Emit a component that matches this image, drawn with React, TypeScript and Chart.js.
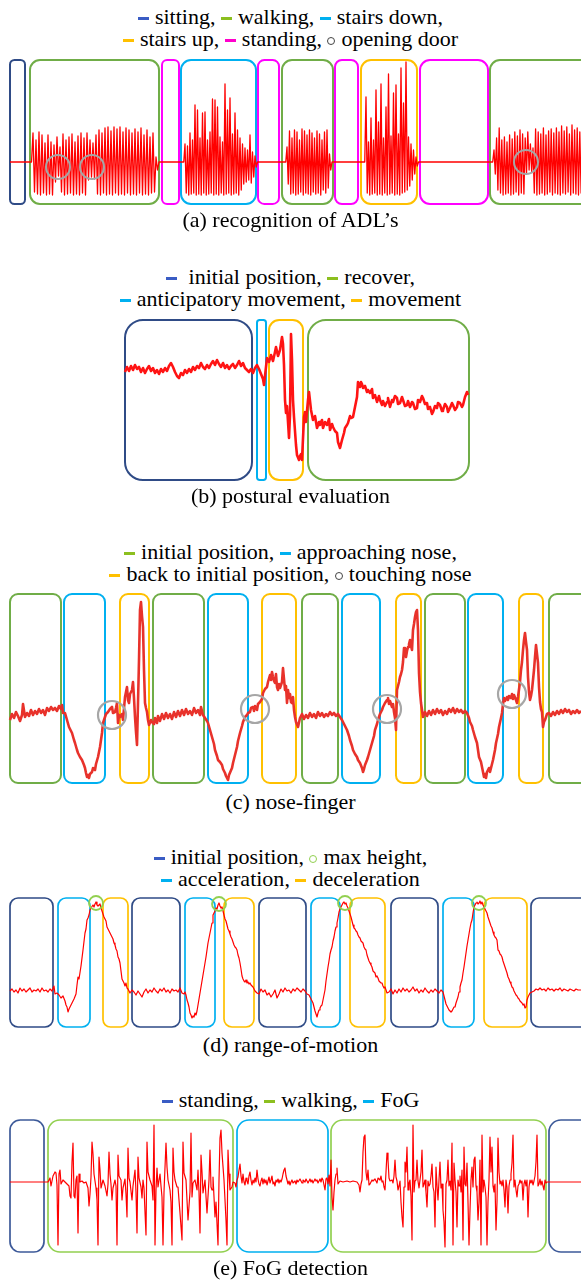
import React, { useEffect, useRef } from 'react';
import { Chart, registerables } from 'chart.js';

Chart.register(...registerables);

type Pt = { x: number; y: number };
type Seg = { phase: string; start: number; end: number };
type Burst = { start: number; step: number; peaks: number[]; troughs: number[] };

// ============ (a) recognition of ADL's ============
const adlSegments: Seg[] = [
  { phase: 'sitting', start: 10, end: 25 },
  { phase: 'walking', start: 30, end: 159 },
  { phase: 'standing', start: 162, end: 179 },
  { phase: 'stairsDown', start: 181, end: 256 },
  { phase: 'standing', start: 258, end: 279 },
  { phase: 'walking', start: 282, end: 333 },
  { phase: 'standing', start: 335, end: 358 },
  { phase: 'stairsUp', start: 361, end: 417 },
  { phase: 'standing', start: 420, end: 488 },
  { phase: 'walking', start: 490, end: 600 },
];
const adlWalk1Peaks = [29, 22, 30, 27, 19, 27, 20, 17, 25, 15, 28, 22, 25, 28, 20, 26, 29, 24, 29, 22, 19, 27, 32, 29, 34, 35, 31, 35, 33, 35, 30, 34, 32, 29, 33, 30, 34, 27, 32, 25, 29, 5];
const adlWalk1Troughs = [-30, -32, -33, -31, -33, -32, -33, -20, -14, -30, -33, -32, -31, -33, -32, -33, -31, -33, -18, -15, -17, -32, -33, -31, -33, -32, -33, -31, -33, -32, -33, -31, -33, -32, -33, -31, -33, -32, -33, -31, -30, -8];
const adlStairsDownPeaks = [18, 16, 29, 22, 57, 52, 24, 49, 50, 22, 30, 63, 62, 55, 25, 20, 78, 52, 64, 28, 49, 32, 24, 18, 14, 12, 27, 10, 6];
const adlStairsDownTroughs = [-31, -33, -32, -31, -33, -32, -33, -31, -33, -32, -31, -33, -32, -33, -31, -33, -32, -31, -33, -32, -31, -33, -28, -22, -20, -18, -21, -15, -5];
const adlWalk2Peaks = [15, 31, 24, 32, 30, 22, 33, 31, 27, 32, 29, 24, 31, 28, 22, 30, 32, 8];
const adlWalk2Troughs = [-22, -32, -31, -33, -32, -30, -33, -31, -32, -33, -30, -32, -31, -33, -28, -31, -26, -8];
const adlStairsUpPeaks = [65, 20, 44, 22, 72, 40, 78, 24, 55, 88, 26, 69, 77, 28, 94, 59, 100, 25, 18, 12, 5];
const adlStairsUpTroughs = [-31, -33, -32, -31, -33, -32, -33, -31, -33, -32, -31, -33, -32, -33, -31, -30, -28, -24, -18, -12, -4];
const adlWalk3Peaks = [12, 24, 34, 22, 25, 20, 27, 23, 30, 26, 32, 28, 24, 30, 18, 14, 33, 30, 28, 34, 27, 31, 33, 29, 34, 30, 36, 31, 35, 28, 37, 32, 34, 30];
const adlWalk3Troughs = [-12, -28, -31, -33, -32, -31, -33, -32, -30, -33, -31, -32, -12, -8, -10, -31, -33, -32, -31, -33, -32, -30, -33, -31, -32, -33, -31, -32, -30, -33, -31, -32, -33, -31];
const adlBursts: Burst[] = [
  { start: 33, step: 3, peaks: adlWalk1Peaks, troughs: adlWalk1Troughs },
  { start: 185, step: 2.5, peaks: adlStairsDownPeaks, troughs: adlStairsDownTroughs },
  { start: 287, step: 2.5, peaks: adlWalk2Peaks, troughs: adlWalk2Troughs },
  { start: 366, step: 2.5, peaks: adlStairsUpPeaks, troughs: adlStairsUpTroughs },
  { start: 494, step: 2.6, peaks: adlWalk3Peaks, troughs: adlWalk3Troughs },
];
const adlRecording = [10, 581];
const adlDoorEvents = [[58, -5], [92, -5], [526, 0]];

// ============ (b) postural evaluation ============
const postureSegments: Seg[] = [
  { phase: 'initial', start: 125, end: 252 },
  { phase: 'anticipatory', start: 257, end: 266 },
  { phase: 'movement', start: 269, end: 303 },
  { phase: 'recover', start: 308, end: 469 },
];
const postureTrace = [
  [125, -2], [127, 3], [129, -1], [131, 4], [133, 0], [135, 5], [137, 1], [139, 3], [141, -2], [143, 2], [145, -3], [147, 1], [149, 4], [151, -1], [153, 2], [155, -3], [157, 0], [159, -4], [161, 1], [163, -2], [165, 2], [167, -1], [169, 4], [171, 7], [173, 3], [175, -2], [177, -6], [179, -8], [181, -3], [183, -5], [185, 0], [187, -3], [189, 1], [191, -2], [193, 3], [195, 0], [197, 4], [199, 2], [201, 7], [203, 3], [205, 1], [207, 5], [209, 2], [211, 6], [213, 9], [215, 5], [217, 10], [219, 6], [221, 3], [223, 7], [225, 2], [227, 5], [229, 1], [231, 4], [233, 6], [235, 2], [237, 5], [239, 9], [241, 4], [243, 7], [245, 2], [247, 0], [249, -2], [251, 1], [253, -3],
  [255, 2], [257, 5], [259, 1], [261, -4], [263, -9], [264, -15], [265, -6], [266, 3],
  [267, 12], [269, 8], [271, 15], [273, 9], [275, 18], [276, 23], [278, 14], [280, 20], [282, 33], [283, 26], [284, 5], [285, -30], [286, -43], [287, -36], [288, -52], [289, -68], [290, -45], [291, 36], [292, 10], [293, -30], [294, -47], [296, -75], [297, -85], [299, -90], [300, -86], [301, -84], [302, -90], [304, -47], [305, -42], [306, -52],
  [308, -30], [309, -22], [311, -40], [313, -50], [315, -46], [317, -58], [319, -52], [320, -55], [322, -50], [323, -58], [325, -52], [327, -55], [329, -49], [330, -60], [332, -54], [333, -57], [335, -61], [337, -63], [338, -72], [340, -78], [342, -70], [344, -63], [345, -58], [347, -55], [348, -53], [350, -46], [351, -48], [353, -47], [355, -37], [357, -27], [358, -12], [360, -17], [361, -12], [362, -14], [363, -18], [365, -16], [367, -22], [368, -20], [370, -23], [372, -19], [373, -28], [375, -25], [377, -32], [379, -26], [380, -30], [382, -35], [383, -31], [385, -36], [387, -32], [388, -28], [390, -37], [392, -30], [393, -32], [395, -26], [397, -28], [398, -34], [400, -33], [402, -27], [403, -30], [405, -36], [407, -35], [408, -31], [410, -37], [412, -32], [413, -33], [415, -39], [417, -38], [418, -30], [420, -32], [422, -26], [423, -28], [425, -34], [427, -33], [428, -39], [430, -37], [432, -44], [433, -42], [435, -36], [437, -38], [438, -33], [440, -35], [442, -41], [443, -40], [445, -34], [447, -37], [448, -42], [450, -38], [452, -33], [453, -35], [455, -40], [457, -37], [458, -32], [460, -33], [462, -37], [463, -35], [465, -27], [467, -22], [468, -25],
];

// ============ (c) nose-finger ============
const noseSegments: Seg[] = [
  { phase: 'initial', start: 10, end: 61 }, { phase: 'approach', start: 64, end: 105 }, { phase: 'back', start: 120, end: 149 },
  { phase: 'initial', start: 153, end: 204 }, { phase: 'approach', start: 208, end: 248 }, { phase: 'back', start: 262, end: 296 },
  { phase: 'initial', start: 302, end: 338 }, { phase: 'approach', start: 342, end: 380 }, { phase: 'back', start: 396, end: 421 },
  { phase: 'initial', start: 425, end: 465 }, { phase: 'approach', start: 468, end: 503 }, { phase: 'back', start: 519, end: 543 },
  { phase: 'initial', start: 549, end: 600 },
];
const noseTrace = [
  [10, -8], [12, -2], [14, -6], [16, 0], [18, -4], [20, -9], [22, -3], [23, 8], [25, -5], [27, -1], [29, -4], [31, 2], [33, -3], [35, 1], [37, -2], [39, 3], [41, -1], [43, 2], [45, -3], [47, 4], [49, 1], [51, 5], [53, 2], [55, 4], [57, 1], [59, 6], [61, 3], [62, 7], [63, -1],
  [65, -1], [67, -8], [69, -15], [71, -19], [72, -21], [74, -28], [75, -31], [77, -38], [78, -41], [80, -45], [82, -48], [84, -53], [85, -56], [86, -61], [87, -65], [88, -63], [89, -66], [90, -62], [92, -60], [93, -56], [95, -58], [96, -52], [98, -45], [99, -40], [100, -35], [101, -28], [102, -21], [103, -11], [104, -8], [105, -5], [106, -2], [108, 0], [110, 3], [112, 5], [113, -1], [115, 0], [116, 4], [117, 9], [118, -11], [119, -3], [120, -5], [122, -2], [123, -8],
  [125, 15], [126, 20], [127, 25], [128, 12], [129, 9], [130, 18], [132, 22], [133, 30], [134, 14], [135, -5], [136, -20], [137, -33], [138, 9], [139, 52], [140, 102], [141, 110], [142, 96], [143, 85], [144, 42], [145, 9], [146, 4], [147, 0], [148, -8], [149, -13], [151, -8], [152, -10],
  [154, -12], [155, -6], [157, -11], [158, -4], [160, -9], [162, -2], [164, -7], [166, -1], [168, -6], [170, -2], [172, -7], [174, 0], [176, -5], [178, 1], [180, -4], [182, 2], [184, -3], [186, 3], [188, -2], [190, 1], [192, -3], [194, 4], [196, -1], [198, 2], [200, -3], [201, 5], [203, -3],
  [205, -6], [207, -9], [208, -11], [210, -18], [212, -25], [214, -32], [215, -38], [217, -44], [218, -48], [220, -50], [222, -53], [223, -57], [225, -61], [226, -64], [227, -66], [228, -68], [229, -63], [230, -63], [232, -56], [233, -51], [235, -43], [237, -35], [238, -29], [240, -21], [242, -14], [243, -10], [245, -5], [247, -3], [248, -1], [250, 0], [251, 4], [253, 5], [254, 1], [255, 6], [257, 2], [258, 8], [260, 10], [262, 13], [263, 19],
  [265, 23], [267, 25], [268, 30], [270, 37], [271, 32], [272, 40], [273, 35], [274, 31], [275, 29], [276, 38], [277, 25], [278, 22], [279, 28], [280, 24], [282, 30], [283, 44], [284, 33], [285, 22], [286, 26], [287, 9], [288, 22], [289, 14], [290, 18], [291, 10], [292, 9], [293, 15], [294, 2], [295, -5], [296, -10], [298, -15],
  [300, -6], [302, -2], [304, -7], [306, -3], [308, -6], [310, -1], [312, -5], [314, -2], [316, -6], [318, 0], [320, -4], [322, -1], [324, -5], [326, -2], [328, -4], [330, 0], [332, -3], [334, -1], [336, -4], [338, -2],
  [340, -5], [342, -8], [343, -10], [345, -14], [347, -18], [349, -24], [350, -28], [352, -34], [353, -38], [355, -42], [357, -45], [358, -48], [360, -51], [362, -56], [363, -60], [364, -57], [365, -53], [367, -48], [368, -45], [370, -38], [372, -31], [374, -24], [375, -18], [377, -12], [378, -8], [380, -2], [382, 2], [383, 5], [385, 9], [387, 12], [388, 14], [389, 8], [390, 11], [392, 5], [393, 8], [394, 0], [395, -6], [396, -18],
  [397, 22], [399, 30], [400, 35], [401, 38], [402, 42], [403, 50], [404, 64], [405, 58], [406, 55], [407, 61], [408, 65], [409, 68], [410, 72], [411, 66], [412, 62], [413, 82], [414, 88], [415, 95], [416, 100], [417, 102], [418, 82], [419, 39], [420, 20], [421, 9], [423, -5],
  [425, 0], [427, -4], [429, 1], [431, -3], [433, 2], [435, -2], [437, 3], [439, -1], [441, 2], [443, -3], [445, 1], [447, -2], [449, 3], [451, 0], [453, 4], [455, -1], [457, 3], [459, 0], [461, 2], [463, -1], [465, 1],
  [467, -1], [469, -6], [470, -10], [472, -14], [473, -18], [475, -25], [477, -31], [478, -38], [479, -45], [481, -50], [482, -55], [483, -60], [484, -65], [485, -62], [486, -66], [487, -60], [488, -58], [489, -56], [490, -60], [492, -52], [493, -48], [495, -38], [496, -31], [498, -22], [499, -15], [501, -6], [502, -1], [503, 8], [504, 14], [505, 11], [507, 15], [508, 12], [509, 16], [511, 14], [512, 18], [513, 13], [514, 17], [516, 12], [517, 9],
  [518, 15], [520, 30], [521, 42], [522, 50], [523, 62], [524, 72], [525, 79], [526, 70], [527, 62], [528, 35], [529, 20], [530, 12], [531, 16], [532, 22], [533, 32], [534, 42], [535, 55], [536, 67], [537, 58], [538, 49], [539, 25], [540, 10], [541, 3], [542, 0], [543, -15], [544, -10], [545, -8], [547, -2],
  [549, -1], [551, -4], [553, 0], [555, -3], [557, 1], [559, -2], [561, 2], [563, -1], [565, 3], [567, 0], [569, 2], [571, -2], [573, 1], [575, -1], [577, 2], [579, -1], [581, 1],
];
const noseTouchEvents = [[112, -3], [255, 3], [387, 3], [512, 18]];

// ============ (d) range-of-motion ============
const romSegments: Seg[] = [
  { phase: 'initial', start: 10, end: 53 }, { phase: 'accel', start: 58, end: 90 }, { phase: 'decel', start: 103, end: 128 },
  { phase: 'initial', start: 132, end: 180 }, { phase: 'accel', start: 185, end: 215 }, { phase: 'decel', start: 224, end: 254 },
  { phase: 'initial', start: 259, end: 306 }, { phase: 'accel', start: 311, end: 340 }, { phase: 'decel', start: 350, end: 385 },
  { phase: 'initial', start: 391, end: 438 }, { phase: 'accel', start: 443, end: 474 }, { phase: 'decel', start: 484, end: 527 },
  { phase: 'initial', start: 531, end: 600 },
];
const romTrace = [
  [10, 0], [12, 2], [14, -1], [16, 1], [18, -2], [20, 3], [22, 0], [24, 2], [26, -1], [28, 1], [30, 3], [32, -1], [34, 1], [36, 0], [38, 2], [40, -1], [42, 3], [44, 0], [46, 1], [48, -1], [50, 2], [52, 0], [54, 5], [55, -3], [57, -2],
  [59, -4], [61, -7], [63, -5], [65, -10], [66, -14], [67, -16], [68, -21], [69, -18], [70, -16], [72, -12], [74, -8], [76, -3], [77, 6], [78, 14], [79, 12], [81, 25], [83, 41], [85, 58], [86, 62], [87, 71], [88, 73], [89, 76], [90, 81], [91, 83], [93, 86], [94, 84], [95, 87], [96, 89], [97, 86], [98, 85], [100, 87], [101, 83], [102, 80], [103, 77], [104, 74], [105, 72], [106, 70], [107, 64], [108, 62], [110, 58], [111, 56], [112, 54], [113, 52], [114, 48], [115, 46], [116, 42], [117, 40], [118, 34], [119, 32], [120, 28], [121, 20], [122, 12], [123, 10], [124, 8], [125, 5], [126, 8], [127, 3], [128, 2], [130, -2],
  [132, 1], [134, -1], [136, -4], [138, 0], [140, -3], [142, -6], [144, -1], [146, 2], [148, -2], [150, 1], [152, -1], [154, 3], [156, 0], [158, -2], [160, 2], [162, 0], [164, 3], [166, -1], [168, 1], [170, -2], [172, 2], [174, 0], [176, 1], [178, -1], [180, 3], [182, -2], [184, -3],
  [185, -1], [186, -4], [187, -9], [188, -12], [189, -16], [190, -22], [191, -24], [192, -27], [193, -25], [194, -26], [195, -22], [196, -24], [197, -20], [198, -14], [199, -8], [200, -2], [202, 10], [204, 22], [206, 34], [208, 48], [210, 58], [212, 68], [213, 76], [215, 80], [216, 83], [217, 82], [218, 86], [219, 88], [220, 85], [221, 83], [222, 84], [223, 80], [224, 76], [225, 72], [226, 70], [227, 66], [228, 62], [229, 60], [230, 57], [231, 54], [232, 52], [233, 49], [234, 46], [235, 44], [236, 43], [237, 41], [238, 36], [239, 33], [240, 28], [241, 22], [242, 15], [243, 12], [244, 10], [245, 9], [246, 11], [247, 8], [248, 9], [249, 7], [250, 8], [251, 6], [252, 5], [253, 4], [254, 2], [255, 0], [257, -2],
  [259, -3], [261, 2], [263, -1], [265, 1], [267, -4], [269, -2], [271, -6], [273, -3], [275, 1], [277, -7], [279, -3], [281, 2], [283, -1], [285, 3], [287, 0], [289, 1], [291, -2], [293, 2], [295, 0], [297, 3], [299, 1], [301, -1], [303, 2], [305, 0], [307, -3],
  [309, -4], [310, -6], [311, -8], [312, -10], [313, -12], [314, -16], [315, -20], [316, -23], [317, -26], [318, -22], [319, -19], [320, -17], [321, -15], [322, -14], [323, -9], [324, -4], [325, 1], [326, 10], [327, 17], [328, 24], [329, 30], [330, 37], [331, 41], [332, 44], [333, 50], [334, 54], [335, 60], [336, 64], [337, 68], [338, 73], [339, 79], [340, 82], [341, 84], [342, 86], [343, 88], [344, 89], [345, 87], [346, 88], [347, 85], [348, 83], [349, 80], [350, 77], [351, 74], [352, 70], [353, 66], [354, 63], [355, 62], [356, 60], [357, 59], [358, 56], [359, 54], [360, 53], [361, 50], [362, 49], [363, 48], [364, 44], [365, 42], [366, 41], [367, 36], [368, 33], [369, 30], [370, 28], [371, 26], [372, 24], [373, 20], [374, 19], [375, 18], [376, 14], [377, 15], [378, 13], [379, 10], [380, 9], [381, 8], [382, 8], [383, 5], [384, 3], [385, 4], [386, 1], [387, -2],
  [389, -1], [391, 2], [393, -3], [395, 1], [397, -2], [399, 2], [401, -1], [403, 3], [405, 0], [407, 2], [409, -1], [411, 1], [413, 4], [415, 0], [417, 2], [419, -2], [421, 1], [423, -1], [425, 3], [427, 0], [429, -2], [431, 1], [433, -1], [435, 2], [437, 0], [439, -2], [441, 1],
  [443, -1], [444, -5], [445, -9], [446, -13], [447, -15], [448, -17], [449, -19], [450, -20], [451, -21], [452, -20], [453, -18], [454, -16], [455, -16], [456, -12], [457, -9], [458, -6], [459, -1], [460, 4], [461, 8], [462, 11], [463, 18], [464, 24], [465, 31], [466, 38], [467, 45], [468, 51], [469, 57], [470, 63], [471, 68], [472, 71], [473, 78], [474, 84], [475, 86], [476, 88], [477, 89], [478, 87], [479, 88], [480, 90], [481, 87], [482, 89], [483, 86], [484, 84], [485, 82], [486, 80], [487, 78], [488, 74], [489, 71], [490, 68], [491, 65], [492, 63], [493, 59], [494, 56], [495, 54], [496, 53], [497, 51], [498, 41], [499, 40], [500, 37], [501, 36], [502, 34], [503, 30], [504, 27], [505, 24], [506, 21], [507, 18], [508, 14], [509, 12], [510, 9], [511, 7], [512, 4], [513, 3], [514, 0], [515, -2], [516, -4], [517, -5], [518, -7], [519, -8], [520, -10], [521, -11], [522, -12], [523, -14], [524, -13], [525, -17], [526, -16], [527, -9], [528, -6], [529, -4], [530, -2], [532, -1], [534, 0],
  [536, 2], [538, 1], [540, 3], [542, 1], [544, 2], [546, 0], [548, 3], [550, 1], [552, 2], [554, 0], [556, 2], [558, 1], [560, 3], [562, 0], [564, 2], [566, 1], [568, 0], [570, 2], [572, 1], [574, 0], [576, 2], [578, 1], [581, 1],
];
const romMaxHeightEvents = [[96, 88], [219, 87], [345, 88], [479, 88]];

// ============ (e) FoG detection ============
const fogSegments: Seg[] = [
  { phase: 'standing', start: 10, end: 44 },
  { phase: 'walking', start: 48, end: 233 },
  { phase: 'fog', start: 237, end: 328 },
  { phase: 'walking', start: 331, end: 546 },
  { phase: 'standing', start: 549, end: 600 },
];
const fogTrace = [
  [10, 0], [20, 0], [30, 0], [40, 0], [48, 0],
  [50, 4], [51, -4], [53, 6], [55, 10], [56, 9], [57, -3], [58, -63], [59, 8], [60, 12], [61, -2], [63, 2], [65, 0], [67, -2], [69, -4], [70, -14], [71, -16], [72, 20], [73, 39], [74, -14], [75, -16], [76, 2], [77, 6], [78, -51], [79, 8], [80, 0], [82, 1], [84, -1], [86, 0], [88, -6], [89, -24], [90, -12], [91, 5], [92, 40], [93, 28], [94, 8], [96, -6], [97, -18], [98, -63], [99, 25], [100, 12], [101, -6], [103, 2], [105, -4], [107, -14], [108, -2], [109, 30], [110, 8], [111, -2], [112, -18], [113, -6], [115, 2], [116, -4], [117, -63], [118, 27], [119, 6], [121, 2], [122, -18], [123, -6], [125, 3], [126, -12], [127, -35], [128, 34], [129, 4], [130, 0], [132, -18], [133, -4], [135, 12], [136, -10], [137, -51], [138, 25], [139, 4], [141, -5], [142, -16], [143, 2], [144, -6], [145, -30], [146, -53], [147, 40], [148, 10], [150, 2], [152, -4], [153, -18], [154, 57], [155, -63], [156, -8], [157, 14], [158, -5], [160, 8], [161, -4], [162, -15], [163, -63], [164, -10], [166, 39], [167, 15], [168, 2], [170, -8], [171, -20], [172, -63], [173, 34], [174, 10], [175, 2], [177, -5], [178, -5], [180, -31], [182, -58], [183, 40], [184, 9], [186, 2], [188, -38], [190, -10], [191, 49], [192, -15], [193, -1], [195, 2], [197, -8], [198, 12], [199, -10], [200, -51], [201, 27], [202, 10], [203, -11], [205, 2], [207, -31], [209, 2], [210, 32], [211, -5], [212, -8], [213, 5], [215, -35], [216, -20], [218, -63], [219, 2], [220, 44], [221, 52], [222, 29], [224, 2], [226, -38], [227, -63], [228, 32], [229, 8], [230, -8], [232, -5], [233, 0], [235, -1], [236, -5], [237, 2],
  [238, 5], [239, 12], [240, 18], [241, 6], [242, -1], [243, 8], [244, 0], [245, -3], [246, 4], [247, 1], [248, -2], [249, 6], [250, 10], [251, 2], [252, -3], [253, 2], [254, -1], [255, 4], [256, 0], [257, 12], [258, 3], [259, -2], [260, -4], [261, 1], [262, 4], [263, -2], [264, 3], [265, -1], [266, 2], [267, -3], [268, 1], [269, 5], [270, -1], [271, 2], [272, 6], [273, -2], [274, 0], [275, -4], [276, 2], [277, 0], [278, 3], [279, -1], [280, 2], [281, 0], [282, 3], [283, 8], [284, 12], [285, 14], [286, 6], [287, 2], [288, -2], [289, 1], [290, -3], [291, 0], [292, 2], [293, -1], [295, 1], [296, -2], [297, 2], [298, 0], [300, 3], [301, 1], [302, -1], [303, 2], [305, 0], [306, 3], [307, 1], [308, -1], [310, 3], [311, 0], [312, 2], [313, -1], [315, 3], [316, 1], [317, 2], [318, -1], [320, 3], [321, 0], [322, 4], [323, 2], [324, -3], [325, -8], [326, 3], [327, 4], [328, -2],
  [329, 7], [330, -4], [331, 22], [332, -15], [333, -28], [334, -10], [335, 2], [336, 8], [337, 14], [338, -2], [340, 1], [343, 0], [347, 1], [350, 0], [353, 1], [357, 0], [359, -3], [360, -10], [361, -2], [362, 2], [363, 30], [364, 45], [365, 47], [366, 10], [367, 2], [368, 12], [369, -3], [370, -2], [372, 2], [373, 1], [375, 3], [377, -1], [378, 4], [380, 2], [381, 6], [382, 0], [383, 1], [384, -5], [385, -8], [386, 10], [387, 29], [388, 22], [389, 4], [390, 1], [392, 2], [393, -1], [394, 6], [395, 22], [396, 5], [397, 1], [398, -8], [399, -4], [400, 1], [401, -20], [402, -35], [403, -45], [404, -5], [405, 20], [406, 10], [407, 35], [408, -8], [409, -1], [410, 2], [411, -14], [412, -58], [413, 57], [414, -10], [415, 1], [416, 2], [417, 22], [418, 1], [419, -6], [420, 2], [421, 10], [422, 32], [423, -5], [424, -2], [425, 2], [426, -10], [427, -25], [428, 1], [429, -4], [430, -2], [431, 6], [432, 18], [433, -5], [434, -10], [435, -45], [436, 15], [437, -4], [438, -18], [439, 2], [440, 20], [441, -6], [442, -2], [443, -28], [444, -40], [445, -65], [446, -2], [447, 2], [448, 22], [449, -4], [450, 1], [451, -8], [452, 39], [453, -63], [454, 19], [455, 2], [456, -10], [457, -45], [458, 2], [459, -4], [460, 6], [461, -10], [462, 12], [463, -58], [464, 35], [465, -2], [466, -4], [467, 19], [468, -20], [469, -63], [470, -28], [471, 2], [472, 15], [473, -5], [474, 22], [475, 25], [476, -4], [477, -10], [478, -38], [479, -20], [480, 22], [481, -63], [482, 47], [483, -10], [484, 2], [485, -5], [486, -15], [487, -63], [488, -20], [489, 2], [490, 45], [491, 10], [492, 35], [493, -4], [494, -10], [495, -2], [496, -48], [497, -20], [498, 44], [499, 10], [500, -2], [501, 1], [502, -4], [503, 2], [504, -8], [505, -25], [506, 2], [507, -5], [508, -31], [509, -4], [510, 2], [511, 8], [512, 19], [513, 47], [514, -5], [515, 2], [516, -8], [517, -15], [518, -4], [519, -2], [520, 2], [521, -1], [522, 1], [523, -18], [524, -2], [525, 2], [526, -4], [527, 2], [528, -35], [529, -5], [530, 2], [531, -1], [532, 2], [533, -3], [534, 1], [535, 6], [536, 20], [537, 47], [538, -4], [539, -2], [540, 3], [541, -3], [542, 1], [543, -4], [544, -8], [545, 2], [546, -1], [547, 0], [550, 0], [560, 0], [570, 0], [581, 0],
];

// ============ legends & captions ============
type LegendItem = { label: string; key: string };
const adlLegend: LegendItem[][] = [
  [{ label: 'sitting', key: 'sitting' }, { label: 'walking', key: 'walking' }, { label: 'stairs down', key: 'stairsDown' }],
  [{ label: 'stairs up', key: 'stairsUp' }, { label: 'standing', key: 'standing' }, { label: 'opening door', key: 'event' }],
];
const postureLegend: LegendItem[][] = [
  [{ label: ' initial position', key: 'initial' }, { label: 'recover', key: 'recover' }],
  [{ label: 'anticipatory movement', key: 'anticipatory' }, { label: 'movement', key: 'movement' }],
];
const noseLegend: LegendItem[][] = [
  [{ label: 'initial position', key: 'initial' }, { label: 'approaching nose', key: 'approach' }],
  [{ label: 'back to initial position', key: 'back' }, { label: 'touching nose', key: 'event' }],
];
const romLegend: LegendItem[][] = [
  [{ label: 'initial position', key: 'initial' }, { label: 'max height', key: 'event' }],
  [{ label: 'acceleration', key: 'accel' }, { label: 'deceleration', key: 'decel' }],
];
const fogLegend: LegendItem[][] = [
  [{ label: 'standing', key: 'standing' }, { label: 'walking', key: 'walking' }, { label: 'FoG', key: 'fog' }],
];
const captions = ['(a) recognition of ADL\u2019s', '(b) postural evaluation', '(c) nose-finger', '(d) range-of-motion', '(e) FoG detection'];

// ============ styles ============
const NAVY = '#2f4b86';
const GREEN = '#70ad47';
const LGREEN = '#92d050';
const CYAN = '#00b0f0';
const GOLD = '#ffc000';
const MAGENTA = '#ff00ff';
const DASH_BLUE = '#3a5cc4';
const DASH_GREEN = '#8cbf1f';

type MarkStyle = { kind: 'dash' | 'ring'; color: string };

const adlBoxColors: Record<string, string> = { sitting: NAVY, walking: GREEN, standing: MAGENTA, stairsDown: CYAN, stairsUp: GOLD };
const adlMarks: Record<string, MarkStyle> = {
  sitting: { kind: 'dash', color: DASH_BLUE }, walking: { kind: 'dash', color: DASH_GREEN }, stairsDown: { kind: 'dash', color: CYAN },
  stairsUp: { kind: 'dash', color: GOLD }, standing: { kind: 'dash', color: '#ff00cc' }, event: { kind: 'ring', color: '#444' },
};
const postureBoxColors: Record<string, string> = { initial: NAVY, anticipatory: CYAN, movement: GOLD, recover: GREEN };
const postureMarks: Record<string, MarkStyle> = {
  initial: { kind: 'dash', color: DASH_BLUE }, recover: { kind: 'dash', color: DASH_GREEN },
  anticipatory: { kind: 'dash', color: CYAN }, movement: { kind: 'dash', color: GOLD },
};
const noseBoxColors: Record<string, string> = { initial: GREEN, approach: CYAN, back: GOLD };
const noseMarks: Record<string, MarkStyle> = {
  initial: { kind: 'dash', color: DASH_GREEN }, approach: { kind: 'dash', color: CYAN },
  back: { kind: 'dash', color: GOLD }, event: { kind: 'ring', color: '#444' },
};
const romBoxColors: Record<string, string> = { initial: NAVY, accel: CYAN, decel: GOLD };
const romMarks: Record<string, MarkStyle> = {
  initial: { kind: 'dash', color: DASH_BLUE }, event: { kind: 'ring', color: LGREEN },
  accel: { kind: 'dash', color: CYAN }, decel: { kind: 'dash', color: GOLD },
};
const fogBoxColors: Record<string, string> = { standing: '#3d5a99', walking: LGREEN, fog: CYAN };
const fogMarks: Record<string, MarkStyle> = {
  standing: { kind: 'dash', color: DASH_BLUE }, walking: { kind: 'dash', color: DASH_GREEN }, fog: { kind: 'dash', color: CYAN },
};

// ============ builders ============
function burstSignal(bursts: Burst[], span: number[]): Pt[] {
  const pts: Pt[] = [{ x: span[0], y: 0 }];
  for (const b of bursts) {
    pts.push({ x: b.start - b.step / 2, y: 0 });
    b.peaks.forEach((p, i) => {
      const t = b.start + i * b.step;
      pts.push({ x: t, y: p });
      pts.push({ x: t + b.step / 2, y: b.troughs[i] });
    });
    pts.push({ x: b.start + b.peaks.length * b.step, y: 0 });
  }
  pts.push({ x: span[1], y: 0 });
  return pts;
}
const toPts = (arr: number[][]): Pt[] => arr.map(([x, y]) => ({ x, y }));

type PanelSpec = {
  top: number; height: number; xMax: number; yMin: number; yMax: number;
  points: Pt[]; lineColor: string; lineWidth: number;
  segments: Seg[]; boxColors: Record<string, string>; boxRadius: number; boxWidth: number;
  events: number[][]; eventColor: string; eventRadius: number; eventWidth: number;
};

const PAD = 4;

function roundRectPath(ctx: CanvasRenderingContext2D, x: number, y: number, w: number, h: number, r: number) {
  ctx.beginPath();
  ctx.moveTo(x + r, y);
  ctx.lineTo(x + w - r, y);
  ctx.arcTo(x + w, y, x + w, y + r, r);
  ctx.lineTo(x + w, y + h - r);
  ctx.arcTo(x + w, y + h, x + w - r, y + h, r);
  ctx.lineTo(x + r, y + h);
  ctx.arcTo(x, y + h, x, y + h - r, r);
  ctx.lineTo(x, y + r);
  ctx.arcTo(x, y, x + r, y, r);
  ctx.closePath();
}

function SignalPanel({ spec }: { spec: PanelSpec }) {
  const ref = useRef<HTMLCanvasElement>(null);
  useEffect(() => {
    const overlay = {
      id: 'phaseOverlay',
      beforeDatasetsDraw(chart: any) {
        const { ctx, chartArea, scales } = chart;
        ctx.save();
        ctx.lineWidth = spec.boxWidth;
        for (const s of spec.segments) {
          const x0 = scales.x.getPixelForValue(s.start);
          const x1 = scales.x.getPixelForValue(s.end);
          const y0 = chartArea.top;
          const y1 = chartArea.bottom;
          const r = Math.min(spec.boxRadius, (x1 - x0) * 0.3);
          ctx.strokeStyle = spec.boxColors[s.phase];
          roundRectPath(ctx, x0, y0, x1 - x0, y1 - y0, r);
          ctx.stroke();
        }
        ctx.restore();
      },
      afterDatasetsDraw(chart: any) {
        const { ctx, scales } = chart;
        ctx.save();
        ctx.lineWidth = spec.eventWidth;
        ctx.strokeStyle = spec.eventColor;
        for (const [ex, ey] of spec.events) {
          ctx.beginPath();
          ctx.arc(scales.x.getPixelForValue(ex), scales.y.getPixelForValue(ey), spec.eventRadius, 0, Math.PI * 2);
          ctx.stroke();
        }
        ctx.restore();
      },
    };
    const chart = new Chart(ref.current as HTMLCanvasElement, {
      type: 'line',
      data: {
        datasets: [{
          data: spec.points as any,
          borderColor: spec.lineColor,
          borderWidth: spec.lineWidth,
          pointRadius: 0,
          tension: 0,
          fill: false,
          borderJoinStyle: 'round',
        } as any],
      },
      options: {
        responsive: false,
        animation: false,
        devicePixelRatio: 1,
        layout: { padding: { top: PAD, bottom: PAD, left: 0, right: 0 } },
        scales: {
          x: { type: 'linear', min: 0, max: spec.xMax, display: false },
          y: { type: 'linear', min: spec.yMin, max: spec.yMax, display: false },
        },
        plugins: { legend: { display: false }, tooltip: { enabled: false }, title: { display: false } },
        events: [],
      } as any,
      plugins: [overlay],
    });
    return () => chart.destroy();
  }, [spec]);
  return (
    <canvas ref={ref} width={581} height={spec.height}
      style={{ position: 'absolute', left: 0, top: spec.top, width: 581, height: spec.height }} />
  );
}

const FONT = '"Liberation Serif", "Times New Roman", serif';
const FONT_SIZE = 22;

function TextLine({ baseline, children }: { baseline: number; children: React.ReactNode }) {
  return (
    <div style={{
      position: 'absolute', left: 0, width: 581, top: baseline - 19, height: 23, lineHeight: '23px',
      textAlign: 'center', whiteSpace: 'nowrap', fontFamily: FONT, fontSize: FONT_SIZE, color: '#000',
    }}>{children}</div>
  );
}

function Legend({ rows, marks, baselines }: { rows: LegendItem[][]; marks: Record<string, MarkStyle>; baselines: number[] }) {
  return (
    <>
      {rows.map((row, r) => (
        <TextLine key={r} baseline={baselines[r]}>
          {row.map((it, i) => {
            const m = marks[it.key];
            const isLast = r === rows.length - 1 && i === row.length - 1;
            return (
              <React.Fragment key={i}>
                {i > 0 ? ' ' : null}
                {m.kind === 'dash' ? (
                  <span style={{ display: 'inline-block', width: 11, height: 3, background: m.color, verticalAlign: 'middle', marginRight: 6 }} />
                ) : (
                  <span style={{ display: 'inline-block', boxSizing: 'border-box', width: 8, height: 8, border: `1.3px solid ${m.color}`, borderRadius: '50%', verticalAlign: 'middle', marginRight: 6 }} />
                )}
                {it.label}{isLast ? '' : ','}
              </React.Fragment>
            );
          })}
        </TextLine>
      ))}
    </>
  );
}

const RED = '#ff0000';

const panels: PanelSpec[] = [
  {
    top: 60 - PAD, height: 144 + 2 * PAD, xMax: 581, yMin: -42, yMax: 102,
    points: burstSignal(adlBursts, adlRecording), lineColor: RED, lineWidth: 1.3,
    segments: adlSegments, boxColors: adlBoxColors, boxRadius: 10, boxWidth: 2,
    events: adlDoorEvents, eventColor: '#a6a6a6', eventRadius: 12, eventWidth: 2,
  },
  {
    top: 320 - PAD, height: 160 + 2 * PAD, xMax: 581, yMin: -110, yMax: 50,
    points: toPts(postureTrace), lineColor: '#ff1414', lineWidth: 2.6,
    segments: postureSegments, boxColors: postureBoxColors, boxRadius: 18, boxWidth: 2,
    events: [], eventColor: '#a6a6a6', eventRadius: 0, eventWidth: 0,
  },
  {
    top: 594 - PAD, height: 189 + 2 * PAD, xMax: 581, yMin: -71, yMax: 118,
    points: toPts(noseTrace), lineColor: '#e8322b', lineWidth: 2.6,
    segments: noseSegments, boxColors: noseBoxColors, boxRadius: 8, boxWidth: 2,
    events: noseTouchEvents, eventColor: '#a6a6a6', eventRadius: 14, eventWidth: 2.2,
  },
  {
    top: 898 - PAD, height: 129 + 2 * PAD, xMax: 581, yMin: -36, yMax: 93,
    points: toPts(romTrace), lineColor: RED, lineWidth: 1.2,
    segments: romSegments, boxColors: romBoxColors, boxRadius: 8, boxWidth: 1.7,
    events: romMaxHeightEvents, eventColor: LGREEN, eventRadius: 7, eventWidth: 1.8,
  },
  {
    top: 1120 - PAD, height: 132 + 2 * PAD, xMax: 581, yMin: -70, yMax: 62,
    points: toPts(fogTrace), lineColor: RED, lineWidth: 1.2,
    segments: fogSegments, boxColors: fogBoxColors, boxRadius: 12, boxWidth: 1.7,
    events: [], eventColor: '#a6a6a6', eventRadius: 0, eventWidth: 0,
  },
];

export default function App() {
  return (
    <div style={{ position: 'fixed', left: 0, top: 0, width: 581, height: 1281, background: '#fff', overflow: 'hidden' }}>
      <Legend rows={adlLegend} marks={adlMarks} baselines={[24, 46]} />
      <SignalPanel spec={panels[0]} />
      <TextLine baseline={227}>{captions[0]}</TextLine>

      <Legend rows={postureLegend} marks={postureMarks} baselines={[284, 306]} />
      <SignalPanel spec={panels[1]} />
      <TextLine baseline={503}>{captions[1]}</TextLine>

      <Legend rows={noseLegend} marks={noseMarks} baselines={[559, 581]} />
      <SignalPanel spec={panels[2]} />
      <TextLine baseline={809}>{captions[2]}</TextLine>

      <Legend rows={romLegend} marks={romMarks} baselines={[864, 886]} />
      <SignalPanel spec={panels[3]} />
      <TextLine baseline={1052}>{captions[3]}</TextLine>

      <Legend rows={fogLegend} marks={fogMarks} baselines={[1107]} />
      <SignalPanel spec={panels[4]} />
      <TextLine baseline={1275}>{captions[4]}</TextLine>
    </div>
  );
}
